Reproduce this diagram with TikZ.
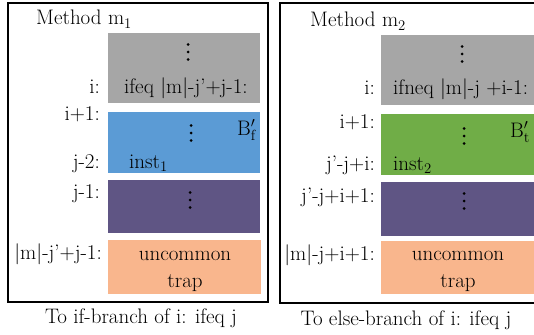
\documentclass[tikz,border=0pt]{standalone}
\usepackage{fontspec}
\definecolor{cgray}{HTML}{A6A6A6}
\definecolor{cblue}{HTML}{5B9BD5}
\definecolor{cgreen}{HTML}{70AD47}
\definecolor{cpurple}{HTML}{5F5584}
\definecolor{corange}{HTML}{F9B68D}
\tikzset{
  frame/.style={draw=black, line width=2.5pt},
  blk/.style={rectangle, inner sep=0pt, draw=none},
  lbl/.style={anchor=base east, inner sep=0pt},
  txt/.style={anchor=base west, inner sep=0pt},
  ctxt/.style={anchor=base, inner sep=0pt},
  vdot/.style={circle, fill=black, inner sep=0pt, minimum size=3pt},
}
\newcommand\mydots[2]{%
  \node[vdot] at (#1,#2-7.5) {};
  \node[vdot] at (#1,#2) {};
  \node[vdot] at (#1,#2+7.5) {};}
\begin{document}
\begin{tikzpicture}[x=1pt,y=-1pt,font=\fontsize{21}{24}\selectfont]
\useasboundingbox (0,0) rectangle (534,334);
\clip (0,0) rectangle (534,334);
% frames
\draw[frame] (8,3) rectangle (268,302);
\draw[frame] (280,3) rectangle (545,303);
% left column
\node[txt] (t1) at (36,25) {Method m\textsubscript{1}};
\node[blk, fill=cgray, minimum width=152pt, minimum height=70pt] (g1) at (184,68) {};
\node[blk, fill=cblue, minimum width=152pt, minimum height=61pt] (b1) at (184,142.5) {};
\node[blk, fill=cpurple, minimum width=152pt, minimum height=53pt] (p1) at (184,206.5) {};
\node[blk, fill=corange, minimum width=153pt, minimum height=54pt] (o1) at (184.5,267) {};
\mydots{188}{52}
\node[txt] (c1) at (124,93) {ifeq |m|-j’+j-1:};
\mydots{191}{133}
\node[txt] (bf) at (237,135) {$\mathrm{B}'_{\mathrm{f}}$};
\node[txt] (in1) at (129,168) {inst\textsubscript{1}};
\mydots{190}{200}
\node[ctxt] (u1) at (185,260) {uncommon};
\node[ctxt] (r1) at (185,287) {trap};
\node[lbl] (l1) at (100,93) {i:};
\node[lbl] (l2) at (100,120) {i+1:};
\node[lbl] (l3) at (100,168) {j-2:};
\node[lbl] (l4) at (100,198) {j-1:};
\node[lbl] (l5) at (102,259) {|m|-j’+j-1:};
\node[ctxt] (cap1) at (141,323) {To if-branch of i: ifeq j};
% right column
\node[txt] (t2) at (310,27) {Method m\textsubscript{2}};
\node[blk, fill=cgray, minimum width=160pt, minimum height=70pt] (g2) at (461,70) {};
\node[blk, fill=cgreen, minimum width=160pt, minimum height=61pt] (b2) at (461,144.5) {};
\node[blk, fill=cpurple, minimum width=160pt, minimum height=54pt] (p2) at (461,209) {};
\node[blk, fill=corange, minimum width=160pt, minimum height=53pt] (o2) at (461,267.5) {};
\mydots{462}{54}
\node[txt] (c2) at (393,95) {ifneq |m|-j +i-1:};
\mydots{464}{136}
\node[txt] (bt) at (510,137) {$\mathrm{B}'_{\mathrm{t}}$};
\node[txt] (in2) at (393,170) {inst\textsubscript{2}};
\mydots{464}{201}
\node[ctxt] (u2) at (458,260) {uncommon};
\node[ctxt] (r2) at (458,287) {trap};
\node[lbl] (m1) at (375,95) {i:};
\node[lbl] (m2) at (375,128) {i+1:};
\node[lbl] (m3) at (375,170) {j’-j+i:};
\node[lbl] (m4) at (375,202) {j’-j+i+1:};
\node[lbl] (m5) at (375,260) {|m|-j+i+1:};
\node[ctxt] (cap2) at (406,325) {To else-branch of i: ifeq j};
\end{tikzpicture}
\end{document}
